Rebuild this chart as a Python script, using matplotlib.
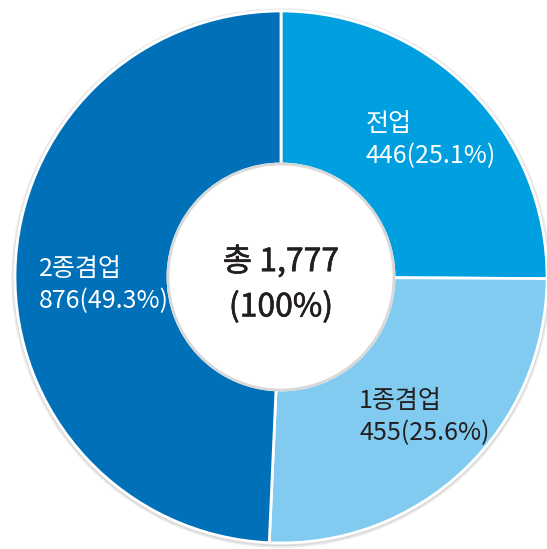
import matplotlib.pyplot as plt
import matplotlib.patheffects as pe
from matplotlib.patches import Circle

plt.rcParams['font.family'] = ['Noto Sans CJK KR', 'DejaVu Sans']

labels = ['전업', '1종겸업', '2종겸업']
values = [446, 455, 876]
colors = ['#009fdf', '#80cbef', '#0071b9']
text_colors = ['white', '#231f20', 'white']

# label anchors in pixels (left x, top-origin y of first line)
label_pos = [(366, 124), (359, 401), (39, 269)]

W, H = 547, 549
cx, cy = 281, H - 277  # pie centre in pixel coords (origin bottom-left)
R, r_in = 266, 113

fig = plt.figure(figsize=(W / 100, H / 100), dpi=100)
ax = fig.add_axes([0, 0, 1, 1])

total = sum(values)

# faint shadow round the ring
ax.add_patch(Circle((cx, cy - 1), R + 3, color='#ececec', zorder=0))
ax.add_patch(Circle((cx, cy - 1), R + 1.5, color='#dadada', zorder=0))

ax.pie(values, colors=colors, startangle=90, counterclock=False,
       center=(cx, cy), radius=R,
       wedgeprops=dict(width=R - r_in, edgecolor='white', linewidth=2))

ax.add_patch(Circle((cx, cy), r_in, facecolor='white', edgecolor='#d8d8d8',
                    linewidth=2, zorder=5))

for lab, v, tc, (x, y) in zip(labels, values, text_colors, label_pos):
    pct = v / total * 100
    ax.text(x, H - y, lab, color=tc, fontsize=18, fontweight='light',
            ha='left', va='center')
    ax.text(x, H - y - 32, f'{v}({pct:.1f}%)', color=tc, fontsize=18,
            fontweight='light', ha='left', va='center')

# medium-ish weight: regular glyphs with a thin stroke
medium = [pe.withStroke(linewidth=0.45, foreground='#231f20')]
ax.text(cx, H - 262, f'총 {total:,}', fontsize=23, path_effects=medium,
        color='#231f20', ha='center', va='center', zorder=6)
ax.text(cx, H - 307, '(100%)', fontsize=23, path_effects=medium,
        color='#231f20', ha='center', va='center', zorder=6)

ax.set_xlim(0, W)
ax.set_ylim(0, H)
ax.set_aspect('equal')
ax.axis('off')

fig.savefig('out.png', dpi=100)
